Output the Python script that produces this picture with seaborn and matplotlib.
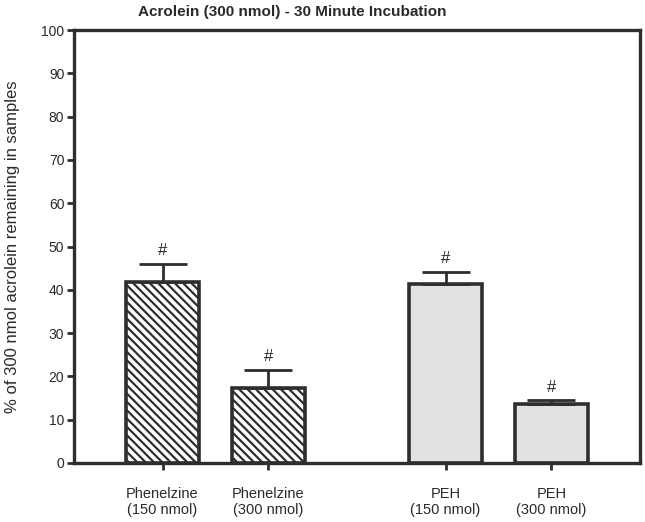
import numpy as np
import pandas as pd
import matplotlib
matplotlib.use("Agg")
import matplotlib.pyplot as plt
import seaborn as sns

# ---- data ----
categories = ["Phenelzine\n(150 nmol)", "Phenelzine\n(300 nmol)", "PEH\n(150 nmol)", "PEH\n(300 nmol)"]
values = [41.9, 17.3, 41.3, 13.6]
errors = [4.1, 4.2, 2.8, 0.9]
markers = ["#", "#", "#", "#"]
title = "Acrolein (300 nmol) - 30 Minute Incubation"
ylabel = "% of 300 nmol acrolein remaining in samples"
yticks = [0, 10, 20, 30, 40, 50, 60, 70, 80, 90, 100]

# ---- layout ----
positions = [0.0, 1.0, 2.67, 3.67]
fills = ["white", "white", "#e2e2e2", "#e2e2e2"]
hatches = ["\\\\\\\\", "\\\\\\\\", "", ""]
edge = "#2e2e2e"

sns.set_theme(style="white")
plt.rcParams["font.family"] = ["Liberation Sans", "DejaVu Sans"]
plt.rcParams["hatch.linewidth"] = 1.6
plt.rcParams["hatch.color"] = edge

df = pd.DataFrame({"pos": positions, "val": values, "err": errors, "cat": categories})

fig = plt.figure(figsize=(6.45, 5.22), dpi=100)
ax = fig.add_axes([74/645, 59/522, (640-74)/645, (463-30)/522])

sns.barplot(data=df, x="pos", y="val", native_scale=True, width=0.68,
            errorbar=None, ax=ax, color="white")

for patch, fc, h in zip(ax.patches, fills, hatches):
    patch.set_facecolor(fc)
    patch.set_edgecolor(edge)
    patch.set_linewidth(2.6)
    patch.set_hatch(h)

ax.errorbar(df["pos"], df["val"], yerr=[np.zeros(len(errors)), df["err"]],
            fmt="none", ecolor=edge, elinewidth=2.0, capsize=17, capthick=2.0, zorder=1)

for x, v, e, m in zip(positions, values, errors, markers):
    ax.text(x, v + e + 1.3, m, ha="center", va="bottom", fontsize=12, color="#2a2a2a")

ax.set_xlim(-0.835, 3.67 + 0.835)
ax.set_ylim(0, 100)
ax.set_yticks(yticks)
ax.set_xticks(positions)
ax.set_xticklabels(categories, fontsize=10.5, color="#2a2a2a", linespacing=1.25)
ax.tick_params(axis="y", labelsize=10, labelcolor="#2a2a2a", pad=2)
ax.tick_params(axis="both", direction="out", length=5, width=2, color=edge,
               left=True, bottom=True)
ax.tick_params(axis="x", pad=12)
ax.set_xlabel("")
ax.set_ylabel(ylabel, fontsize=12, color="#2a2a2a")
ax.yaxis.set_label_coords(-0.096, 0.5)
for s in ax.spines.values():
    s.set_visible(True)
    s.set_color(edge)
    s.set_linewidth(2.4)

fig.text(292/645, 1 - 12/522, title, ha="center", va="center",
         fontsize=11, fontweight="bold", color="#2a2a2a")

fig.savefig("out.png", dpi=100)
